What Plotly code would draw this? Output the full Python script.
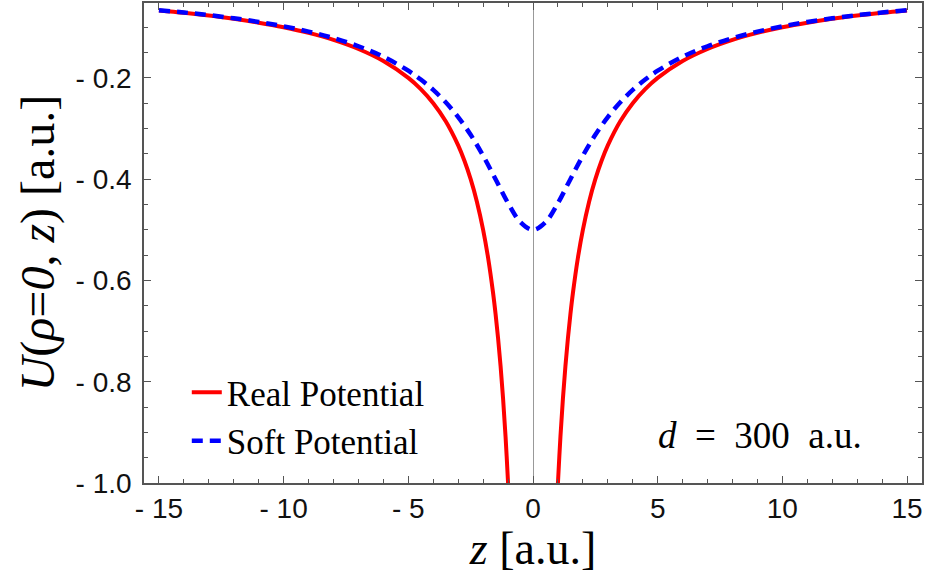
import plotly.graph_objects as go

# Real potential, with a gap at the singularity
z_real = [-15, -14, -13, -12, -11, -10, -9, -8, -7, -6, -5, -4.5, -4, -3.5, -3, -2.75, -2.5,
          -2.25, -2, -1.8, -1.6, -1.5, -1.4, -1.3, -1.2, -1.1, -1.0, -0.95, None,
          0.95, 1.0, 1.1, 1.2, 1.3, 1.4, 1.5, 1.6, 1.8, 2, 2.25, 2.5, 2.75, 3, 3.5, 4, 4.5,
          5, 6, 7, 8, 9, 10, 11, 12, 13, 14, 15]
u_real = [-0.0667, -0.0714, -0.0769, -0.0833, -0.0909, -0.1, -0.1111, -0.125, -0.1429, -0.1667,
          -0.2, -0.2222, -0.25, -0.2857, -0.3333, -0.3636, -0.4, -0.4444, -0.5, -0.5556, -0.625,
          -0.6667, -0.7143, -0.7692, -0.8333, -0.9091, -1.0, -1.0526, None,
          -1.0526, -1.0, -0.9091, -0.8333, -0.7692, -0.7143, -0.6667, -0.625, -0.5556, -0.5,
          -0.4444, -0.4, -0.3636, -0.3333, -0.2857, -0.25, -0.2222, -0.2, -0.1667, -0.1429,
          -0.125, -0.1111, -0.1, -0.0909, -0.0833, -0.0769, -0.0714, -0.0667]

# Soft potential
z_soft = [-15, -14, -13, -12, -11, -10, -9, -8, -7, -6, -5, -4.5, -4, -3.5, -3, -2.5, -2, -1.5,
          -1, -0.5, 0, 0.5, 1, 1.5, 2, 2.5, 3, 3.5, 4, 4.5, 5, 6, 7, 8, 9, 10, 11, 12, 13, 14, 15]
u_soft = [-0.0661, -0.0707, -0.0760, -0.0822, -0.0894, -0.0981, -0.1085, -0.1213, -0.1374,
          -0.1581, -0.1857, -0.2031, -0.2236, -0.2481, -0.2774, -0.3123, -0.3536, -0.4, -0.4472,
          -0.4851, -0.5, -0.4851, -0.4472, -0.4, -0.3536, -0.3123, -0.2774, -0.2481, -0.2236,
          -0.2031, -0.1857, -0.1581, -0.1374, -0.1213, -0.1085, -0.0981, -0.0894, -0.0822,
          -0.0760, -0.0707, -0.0661]

x_tickvals = [-15, -10, -5, 0, 5, 10, 15]
x_ticktext = ["- 15", "- 10", "- 5", "0", "5", "10", "15"]
y_tickvals = [-1.0, -0.8, -0.6, -0.4, -0.2]
y_ticktext = ["- 1.0", "- 0.8", "- 0.6", "- 0.4", "- 0.2"]

fig = go.Figure()
fig.add_trace(go.Scatter(x=z_real, y=u_real, mode="lines", name="Real Potential",
                         line=dict(color="#FF0000", width=4, shape="spline"),
                         connectgaps=False))
fig.add_trace(go.Scatter(x=z_soft, y=u_soft, mode="lines", name="Soft Potential",
                         line=dict(color="#0000FF", width=4.5, dash="11px,7px", shape="spline")))

axis_common = dict(
    showline=True, linecolor="#555555", linewidth=1.5, mirror="ticks",
    ticks="inside", ticklen=7, tickwidth=1.2, tickcolor="#555555",
    showgrid=False,
    tickfont=dict(family="Liberation Sans, Arial, sans-serif", size=28, color="#111111"),
)

fig.update_xaxes(
    **axis_common,
    range=[-15.6, 15.6],
    tickvals=x_tickvals, ticktext=x_ticktext,
    zeroline=True, zerolinecolor="#999999", zerolinewidth=1,
    minor=dict(dtick=1, ticks="inside", ticklen=4, tickcolor="#555555", tickwidth=1, showgrid=False),
    ticklabelstandoff=0,
    title=dict(text="<i>z</i> [a.u.]", standoff=0,
               font=dict(family="Liberation Serif, Times New Roman, serif", size=46, color="#000000")),
)
fig.update_yaxes(
    **axis_common,
    range=[-1.0, -0.052],
    tickvals=y_tickvals, ticktext=y_ticktext,
    zeroline=False,
    minor=dict(dtick=0.05, tick0=-1.0, ticks="inside", ticklen=4, tickcolor="#555555", tickwidth=1, showgrid=False),
    ticklabelstandoff=5,
    title=dict(text="<i>U</i>(<i>ρ</i>=<i>0</i>, <i>z</i>) [a.u.]", standoff=6,
               font=dict(family="Liberation Serif, Times New Roman, serif", size=48, color="#000000")),
)

fig.add_annotation(text="<i>d</i>  =  300  a.u.", xref="paper", yref="paper",
                   x=0.792, y=0.1, xanchor="center", yanchor="middle", showarrow=False,
                   font=dict(family="Liberation Serif, Times New Roman, serif", size=37, color="#000000"))

fig.update_layout(
    width=925, height=574,
    margin=dict(l=144, r=3, t=3, b=91, autoexpand=False),
    plot_bgcolor="white", paper_bgcolor="white",
    showlegend=True,
    legend=dict(x=0.055, y=0.25, xanchor="left", yanchor="top",
                bgcolor="rgba(0,0,0,0)", borderwidth=0,
                font=dict(family="Liberation Serif, Times New Roman, serif", size=35, color="#000000"),
                tracegroupgap=0),
)

fig.write_html("out.html")
